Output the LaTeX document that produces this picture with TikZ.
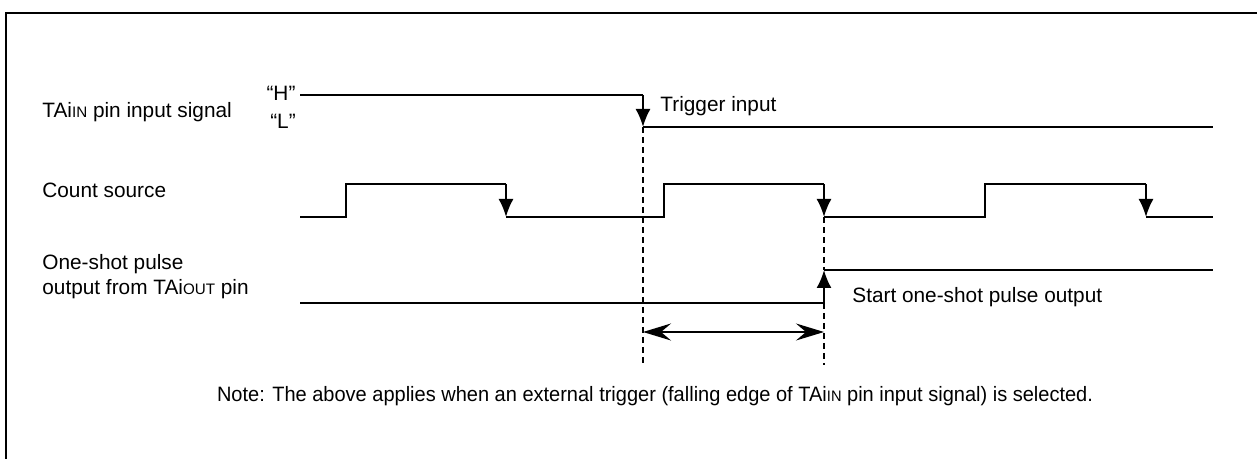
\documentclass[tikz,border=0pt]{standalone}
\usepackage{fontspec}
\setmainfont{Liberation Sans}
\usetikzlibrary{arrows.meta}
\newcommand{\subsc}[1]{{\fontsize{7.6}{9}\selectfont #1}}
\begin{document}
\begin{tikzpicture}[x=0.5pt,y=-0.5pt,
  sig/.style={line width=1pt},
  frameline/.style={line width=1.2pt},
  guide/.style={line width=0.6pt,dash pattern=on 3pt off 2pt},
  edgearrow/.style={-{Latex[length=9pt,width=7.5pt]}},
  span/.style={line width=1pt,{Stealth[length=14pt,width=8.5pt,inset=5pt]}-{Stealth[length=14pt,width=8.5pt,inset=5pt]}},
  lbl/.style={inner sep=0pt,anchor=west,font=\fontsize{10.4}{12.5}\selectfont},
  every node/.style={font=\fontsize{10.4}{12.5}\selectfont}]
\useasboundingbox (0,0) rectangle (1257,459);
% frame (left and top edges)
\draw[frameline] (6,459) -- (6,13) -- (1257,13);

% named coordinates
\coordinate (tstart) at (300,95);
\coordinate (trig) at (643,95);
\coordinate (trigL) at (643,127);
\coordinate (tend) at (1213,127);

% TAiIN signal
\draw[sig] (tstart) -- (trig);
\draw[sig,edgearrow] (trig) -- (trigL);
\draw[sig] (trigL) -- (tend);

% Count source
\coordinate (c0) at (300,217);
\coordinate (f1) at (506,184);
\coordinate (f1b) at (506,217);
\coordinate (f2) at (824,184);
\coordinate (f2b) at (824,217);
\coordinate (f3) at (1146,184);
\coordinate (f3b) at (1146,217);
\coordinate (cend) at (1213,217);
\draw[sig] (c0) -- (346,217) -- (346,184) -- (f1);
\draw[sig,edgearrow] (f1) -- (f1b);
\draw[sig] (f1b) -- (664,217) -- (664,184) -- (f2);
\draw[sig,edgearrow] (f2) -- (f2b);
\draw[sig] (f2b) -- (985,217) -- (985,184) -- (f3);
\draw[sig,edgearrow] (f3) -- (f3b);
\draw[sig] (f3b) -- (cend);

% One-shot output
\coordinate (o0) at (300,303);
\coordinate (orise) at (824,303);
\coordinate (ohigh) at (824,270);
\coordinate (oend) at (1213,270);
\draw[sig] (o0) -- (orise);
\draw[sig,edgearrow] (orise) -- (ohigh);
\draw[sig] (ohigh) -- (oend);

% guides
\coordinate (g1) at (643,365);
\coordinate (g2) at (824,365);
\draw[guide] (trigL) -- (g1);
\draw[guide] (f2b) -- (ohigh);
\draw[guide] (orise) -- (g2);

% span arrow
\coordinate (s1) at (643,332);
\coordinate (s2) at (824,332);
\draw[span] (s1) -- (s2);

% labels
\node[lbl] (lin) at (42,112) {TAi\subsc{IN} pin input signal};
\node[inner sep=0pt] (lH) at (281,93) {“H”};
\node[inner sep=0pt] (lL) at (283,121) {“L”};
\node[lbl] (lcnt) at (42,190) {Count source};
\node[lbl,align=left] (lout) at (42,277) {One-shot pulse\\output from TAi\subsc{OUT} pin};
\node[lbl] (ltrig) at (660,106) {Trigger input};
\node[lbl] (lstart) at (852,297) {Start one-shot pulse output};
\node[inner sep=0pt] (note) at (655,396) {\scalebox{0.962}[1]{Note: The above applies when an external trigger (falling edge of TAi\subsc{IN} pin input signal) is selected.}};
\end{tikzpicture}
\end{document}
